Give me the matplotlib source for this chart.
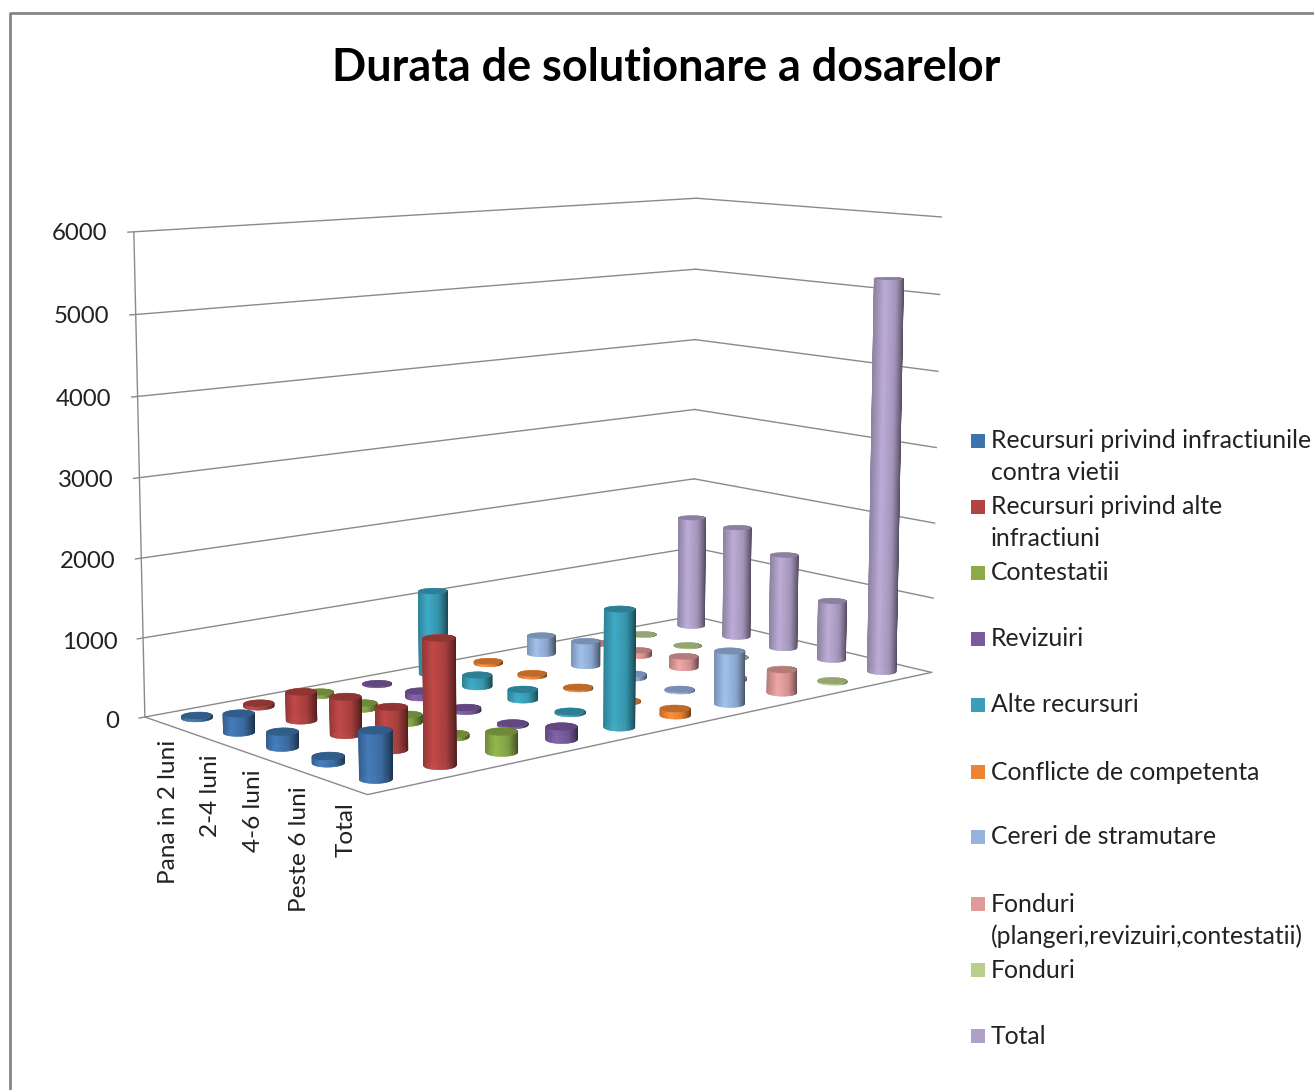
import matplotlib
matplotlib.use("Agg")
import matplotlib.pyplot as plt
import numpy as np
from matplotlib.lines import Line2D
from matplotlib.patches import Rectangle
from mpl_toolkits.mplot3d import proj3d
from mpl_toolkits.mplot3d.art3d import Poly3DCollection

W, H = 1314, 1090
plt.rcParams['font.family'] = ['Lato', 'DejaVu Sans']

title = "Durata de solutionare a dosarelor"
categories = ["Pana in 2 luni", "2-4 luni", "4-6 luni", "Peste 6 luni", "Total"]
z_ticks = [0, 1000, 2000, 3000, 4000, 5000, 6000]
series_names = ["Recursuri privind infractiunile\ncontra vietii", "Recursuri privind alte\ninfractiuni",
                "Contestatii", "Revizuiri", "Alte recursuri", "Conflicte de competenta",
                "Cereri de stramutare", "Fonduri\n(plangeri,revizuiri,contestatii)", "Fonduri", "Total"]
recursuri_viata = [30, 235, 190, 80, 570]
recursuri_alte = [40, 360, 470, 520, 1510]
contestatii = [40, 70, 100, 40, 250]
revizuiri = [10, 80, 40, 20, 160]
alte_recursuri = [1110, 150, 130, 20, 1470]
conflicte = [30, 30, 15, 10, 85]
stramutare = [250, 330, 50, 15, 680]
fonduri_pl = [20, 70, 150, 30, 300]
fonduri = [5, 5, 5, 2, 15]
total = [1550, 1540, 1290, 800, 5200]
values = [recursuri_viata, recursuri_alte, contestatii, revizuiri, alte_recursuri,
          conflicte, stramutare, fonduri_pl, fonduri, total]
colors = ["#3f73ad", "#b34442", "#8aab47", "#7a5a9f", "#3a9fb8", "#ee8433",
          "#95b3dc", "#e09a9a", "#b9ce8f", "#afa0c8"]

fig = plt.figure(figsize=(W / 100, H / 100), dpi=100, facecolor="white")
ax = fig.add_axes([0.20978, 0.32364, 0.40774, 0.49153], projection="3d", computed_zorder=False)
ax.set_axis_off()
ax.set_xlim(0, 10, view_margin=0)
ax.set_ylim(0, 5, view_margin=0)
ax.set_zlim(0, 6000, view_margin=0)
ax.view_init(elev=9.0918, azim=-130.0454, roll=0)
ax.set_box_aspect((1, np.exp(-0.6919), np.exp(-0.4307)), zoom=1.7153)
rx, ry = 0.2039, 0.2037
proj = ax.get_proj()

grid_color = "#8a8a8a"
for z in z_ticks:
    ax.plot([-0.09, 0, 10], [5, 5, 5], [z, z, z], color=grid_color, lw=1, zorder=1, clip_on=False)
    ax.plot([10, 10], [5, 0], [z, z], color=grid_color, lw=1, zorder=1, clip_on=False)
    lx, ly, _ = proj3d.proj_transform(-0.40, 5, z, proj)
    ax.text2D(lx, ly, str(z), transform=ax.transData, ha="right", va="center", fontsize=17.3,
              color="#222222", clip_on=False, zorder=500)
ax.plot([0, 0], [5, 5], [0, 6000], color=grid_color, lw=1, zorder=1, clip_on=False)
ax.plot([0, 0, 10], [5, 0, 0], [0, 0, 0], color=grid_color, lw=1, zorder=1, clip_on=False)

# rotated labels have to be placed in 2d, Text3D ignores rotation
for c, name in enumerate(categories):
    lx, ly, _ = proj3d.proj_transform(0.05, 4.5 - c, -200, proj)
    ax.text2D(lx, ly, name, transform=ax.transData, rotation=90, ha="center", va="top",
              fontsize=17.6, color="#222222", clip_on=False, zorder=500)

# unit vector across the screen, to shade the cylinder sides
azim = np.radians(-130.0454)
right_vec = np.array([-np.sin(azim), np.cos(azim)])
angles = np.linspace(0, 2 * np.pi, 49)


def shade(color, u):
    rgb = np.array(matplotlib.colors.to_rgb(color))
    f = np.interp(u, [-1, -0.35, 0.4, 0.85, 1], [0.82, 1.08, 0.92, 0.6, 0.45])
    return np.clip(rgb * f, 0, 1)


for s, row in enumerate(values):
    for c, v in enumerate(row):
        x0, y0 = s + 0.5, 4.5 - c
        xs = x0 + rx * np.cos(angles)
        ys = y0 + ry * np.sin(angles)
        quads, cols = [], []
        for k in range(len(angles) - 1):
            quads.append([(xs[k], ys[k], 0), (xs[k + 1], ys[k + 1], 0),
                          (xs[k + 1], ys[k + 1], v), (xs[k], ys[k], v)])
            mid = (angles[k] + angles[k + 1]) / 2
            cols.append(shade(colors[s], np.cos(mid) * right_vec[0] + np.sin(mid) * right_vec[1]))
        zo = 100 + c * 3 - s * 3
        side_poly = Poly3DCollection(quads, facecolors=cols, edgecolors=cols, linewidths=0.4,
                                     zorder=zo, clip_on=False)
        side_poly.set_snap(False)
        ax.add_collection3d(side_poly, autolim=False)
        top = Poly3DCollection([list(zip(xs, ys, np.full_like(xs, v)))], zorder=zo + 1, clip_on=False,
                               facecolors=[np.array(matplotlib.colors.to_rgb(colors[s])) * 0.8],
                               edgecolors="none")
        top.set_snap(False)
        ax.add_collection3d(top, autolim=False)

fig.text(666 / W, 1 - 68 / H, title, ha="center", va="center", fontsize=32.4, fontweight="bold", color="black")

legend_y = [441, 507, 573, 639, 705, 772, 837, 904, 970, 1036]
for name, col, y in zip(series_names, colors, legend_y):
    fig.add_artist(Rectangle((971 / W, 1 - (y + 7) / H), 14 / W, 14 / H, transform=fig.transFigure,
                             facecolor=col, edgecolor="none"))
    lines = name.split("\n")
    for j, line in enumerate(lines):
        fig.text(991 / W, 1 - (y + j * 32) / H, line, ha="left", va="center", fontsize=17.8, color="#222222")

frame_x = np.array([10, 10, 1314]) / W
frame_y = 1 - np.array([1090, 13, 13]) / H
fig.add_artist(Line2D(frame_x, frame_y, color="#868686", lw=2, transform=fig.transFigure))

fig.savefig("out.png", dpi=100)
